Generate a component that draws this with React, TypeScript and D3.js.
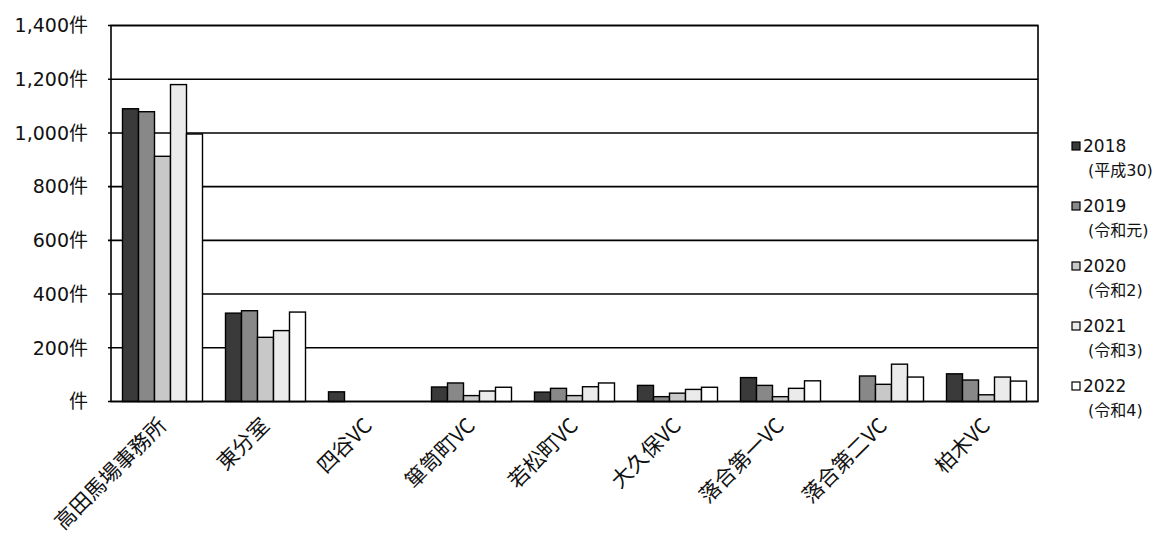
import React from "react";
import * as d3 from "d3";

const categories = ["高田馬場事務所", "東分室", "四谷VC", "箪笥町VC", "若松町VC", "大久保VC", "落合第一VC", "落合第二VC", "柏木VC"];
const years = ["2018", "2019", "2020", "2021", "2022"];
const yearSub = ["(平成30)", "(令和元)", "(令和2)", "(令和3)", "(令和4)"];
const colors = ["#3a3a3a", "#888888", "#c8c8c8", "#ebebeb", "#ffffff"];
const v2018 = [1090, 329, 36, 54, 35, 60, 89, 0, 103];
const v2019 = [1079, 338, 0, 69, 49, 18, 60, 95, 80];
const v2020 = [913, 239, 0, 22, 22, 31, 18, 64, 25];
const v2021 = [1180, 264, 0, 39, 55, 45, 49, 139, 91];
const v2022 = [996, 333, 0, 53, 69, 53, 77, 91, 76];
const series = [v2018, v2019, v2020, v2021, v2022];
const yTicks = [0, 200, 400, 600, 800, 1000, 1200, 1400];

const W = 1160, H = 538;
const left = 111, right = 1038, top = 25.5, bottom = 401.5;
const FONT = "'DejaVu Sans', 'Noto Sans CJK JP', sans-serif";
const CJK = "'Noto Sans CJK JP', sans-serif";

export default function App() {
  const y = d3.scaleLinear().domain([0, 1400]).range([bottom, top]);
  const x0 = d3.scaleBand<string>().domain(categories).range([left, right]).padding(0);
  const bw = x0.bandwidth();
  const x1 = d3.scaleBand<string>().domain(years).range([11.5, bw - 11.5]).padding(0);
  const fmt = d3.format(",");

  return (
    <svg width={W} height={H} style={{ position: "absolute", left: 0, top: 0, background: "#fff" }} fontFamily={FONT}>
      {yTicks.map((t) => (
        <g key={t}>
          <line x1={left - 3} x2={right} y1={y(t)} y2={y(t)} stroke="#000" strokeWidth={1.6} />
          <text x={88} y={y(t)} dy="0.36em" textAnchor="end" fontSize={19} fill="#111">
            {t === 0 ? "件" : fmt(t) + "件"}
          </text>
        </g>
      ))}
      {categories.map((c, ci) => (
        <g key={c} transform={`translate(${x0(c)},0)`}>
          {series.map((s, si) =>
            s[ci] > 0 ? (
              <rect key={si} x={x1(years[si])} y={y(s[ci])} width={x1.bandwidth()} height={bottom - y(s[ci])}
                fill={colors[si]} stroke="#000" strokeWidth={1.4} />
            ) : null
          )}
        </g>
      ))}
      <rect x={left} y={top} width={right - left} height={bottom - top} fill="none" stroke="#000" strokeWidth={1.6} />
      {categories.map((c) => {
        const cx = (x0(c) as number) + bw / 2 + 5;
        const cy = 427;
        return (
          <text key={c} x={cx} y={cy} textAnchor="end" fontSize={21} fontFamily={CJK} fill="#111" transform={`rotate(-45 ${cx} ${cy})`}>
            {c}
          </text>
        );
      })}
      {years.map((yr, i) => {
        const ly = 146 + i * 60;
        return (
          <g key={yr}>
            <rect x={1072} y={ly - 4} width={8} height={8} fill={colors[i]} stroke="#000" strokeWidth={1.2} />
            <text x={1083} y={ly} dy="0.36em" fontSize={17} fill="#111">{yr}</text>
            <text x={1088} y={ly + 24} dy="0.36em" fontSize={16} fill="#111">{yearSub[i]}</text>
          </g>
        );
      })}
    </svg>
  );
}
